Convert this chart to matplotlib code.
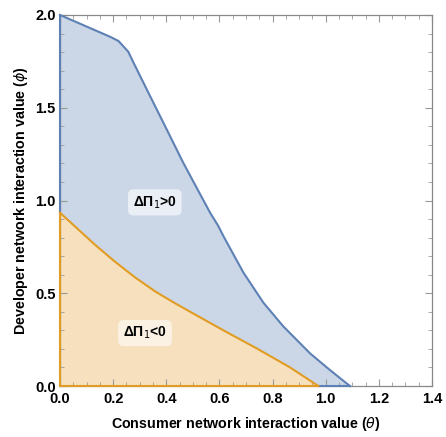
import matplotlib
matplotlib.use("Agg")
import matplotlib.pyplot as plt
from matplotlib.ticker import MultipleLocator, FormatStrFormatter
import numpy as np

plt.rcParams['font.family'] = ['Liberation Sans', 'DejaVu Sans']

# Upper boundary of the ΔΠ1>0 region (blue)
blue_theta = [0.0, 0.188, 0.220, 0.257, 0.276, 0.339, 0.402, 0.464, 0.527, 0.565,
              0.596, 0.615, 0.690, 0.765, 0.840, 0.941, 1.016, 1.091]
blue_phi   = [2.0, 1.883, 1.860, 1.802, 1.745, 1.563, 1.382, 1.203, 1.035, 0.934,
              0.862, 0.808, 0.612, 0.450, 0.322, 0.176, 0.086, 0.0]

# Upper boundary of the ΔΠ1<0 region (orange)
orange_theta = [0.0, 0.0565, 0.132, 0.207, 0.282, 0.358, 0.433, 0.500, 0.615, 0.740, 0.866, 0.972]
orange_phi   = [0.934, 0.860, 0.761, 0.670, 0.586, 0.510, 0.446, 0.392, 0.300, 0.203, 0.100, 0.0]

label_pos = {"ΔΠ$_1$>0": (0.357, 0.99), "ΔΠ$_1$<0": (0.32, 0.285)}

blue_fill = '#CBD7E7'
blue_line = '#5E81B5'
orange_fill = '#F6E0BD'
orange_line = '#E19C24'

fig = plt.figure(figsize=(4.46, 4.37), dpi=100)
ax = fig.add_axes([60/446, 1-386/437, 372/446, 371/437])

bt = np.array(blue_theta); bp = np.array(blue_phi)
ot = np.array(orange_theta); op = np.array(orange_phi)

ax.fill(np.concatenate([bt, ot[::-1]]), np.concatenate([bp, op[::-1]]),
        color=blue_fill, lw=0, zorder=1)
ax.fill(np.concatenate([ot, [0.0]]), np.concatenate([op, [0.0]]),
        color=orange_fill, lw=0, zorder=1)

lw = 1.5
ax.plot(bt, bp, color=blue_line, lw=lw, zorder=3, clip_on=False)
ax.plot([0, 0], [op[0], 2.0], color=blue_line, lw=lw, zorder=3, clip_on=False)
ax.plot([ot[-1], bt[-1]], [0, 0], color=blue_line, lw=lw, zorder=3, clip_on=False)
ax.plot(ot, op, color=orange_line, lw=lw, zorder=4, clip_on=False)
ax.plot([0, 0], [0, op[0]], color=orange_line, lw=lw, zorder=4, clip_on=False)
ax.plot([0, ot[-1]], [0, 0], color=orange_line, lw=lw, zorder=4, clip_on=False)

for txt, (x, y) in label_pos.items():
    ax.text(x, y, txt, ha='center', va='center', fontsize=10, fontweight='bold',
            bbox=dict(boxstyle='round,pad=0.35,rounding_size=0.4', fc='white', ec='none', alpha=0.6),
            zorder=5)

ax.set_xlim(0, 1.4)
ax.set_ylim(0, 2.0)
ax.xaxis.set_major_locator(MultipleLocator(0.2))
ax.xaxis.set_minor_locator(MultipleLocator(0.05))
ax.yaxis.set_major_locator(MultipleLocator(0.5))
ax.yaxis.set_minor_locator(MultipleLocator(0.1))
ax.xaxis.set_major_formatter(FormatStrFormatter('%.1f'))
ax.yaxis.set_major_formatter(FormatStrFormatter('%.1f'))
ax.tick_params(which='both', direction='in', top=True, right=True, color='#999999')
ax.tick_params(which='major', length=5, width=0.8, labelsize=10.5)
ax.tick_params(axis='x', which='major', pad=4)
ax.tick_params(axis='y', which='major', pad=3)
ax.tick_params(which='minor', length=3, width=0.6)
for lab in ax.get_xticklabels() + ax.get_yticklabels():
    lab.set_fontweight('bold')
for s in ax.spines.values():
    s.set_color('#888888')
    s.set_linewidth(0.9)

ax.set_xlabel('Consumer network interaction value ($\\theta$)', fontsize=10.3, fontweight='bold', labelpad=7)
ax.set_ylabel('Developer network interaction value ($\\phi$)', fontsize=10.3, fontweight='bold', labelpad=4)

fig.savefig('out.png', dpi=100)
